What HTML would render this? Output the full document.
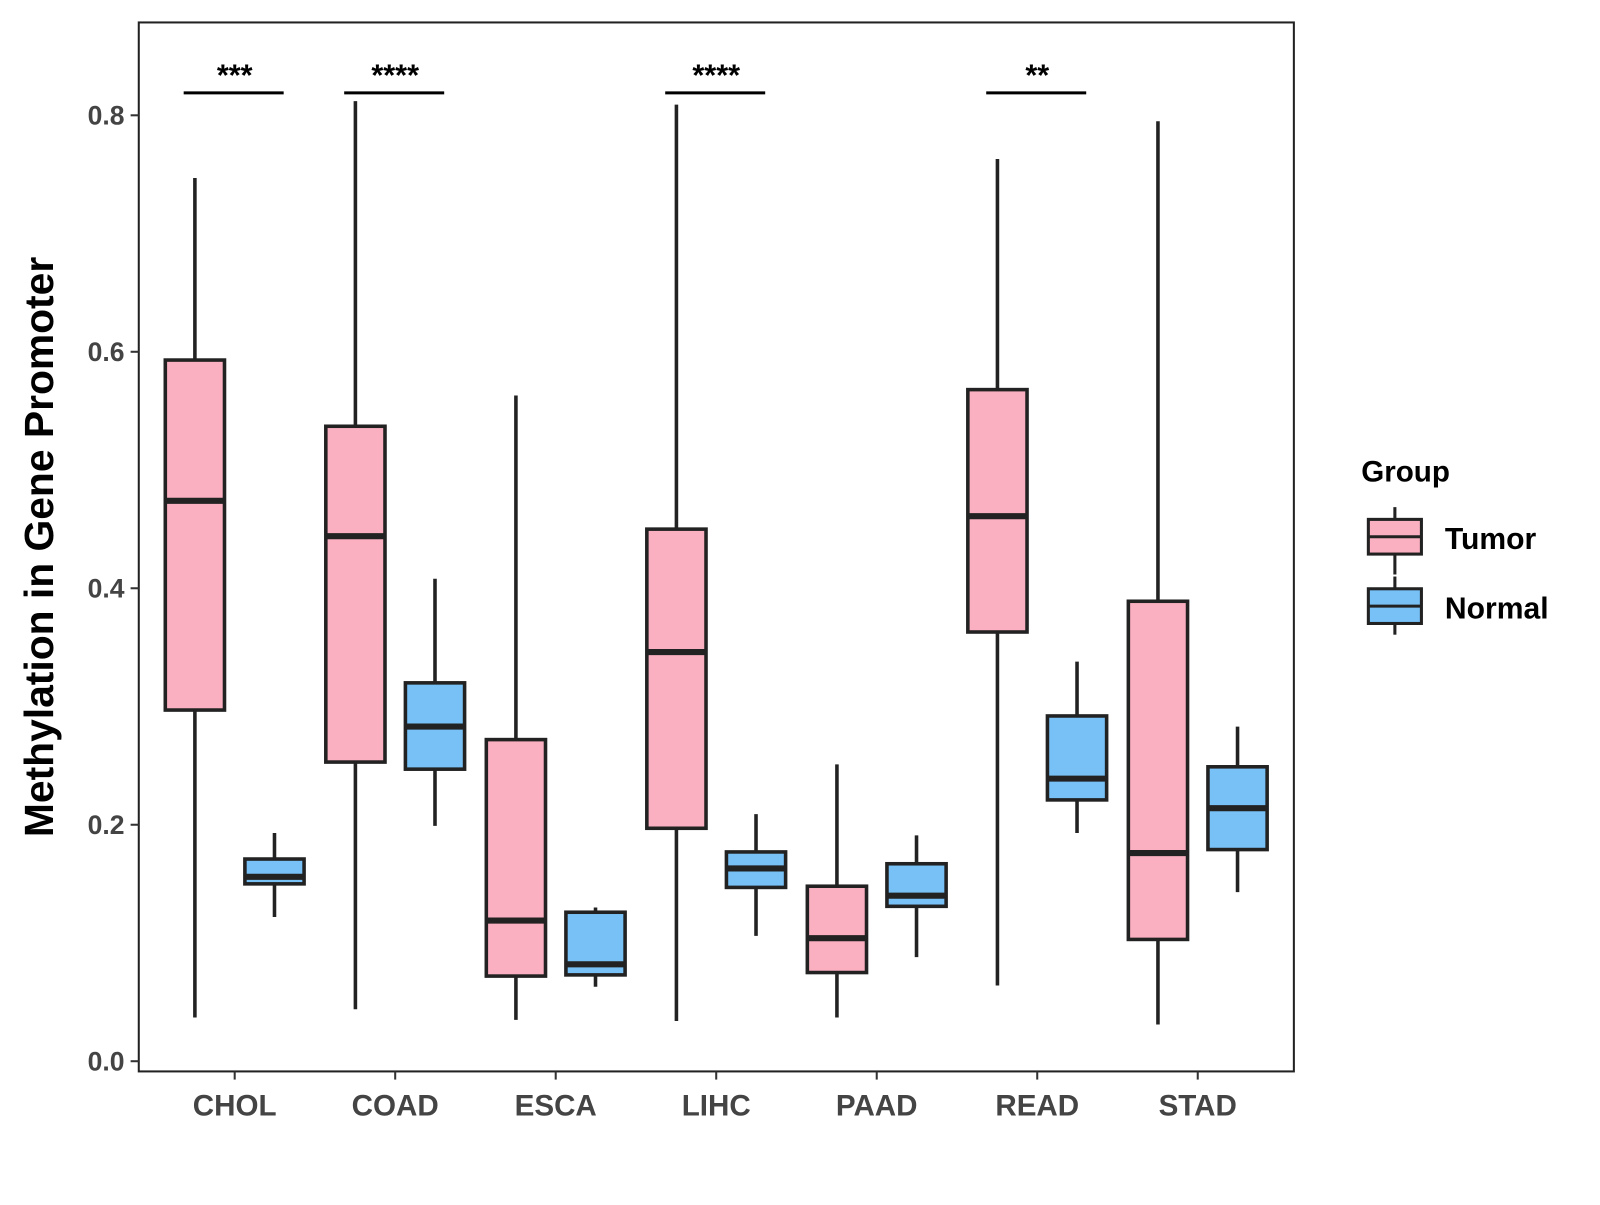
<!DOCTYPE html>
<html><head><meta charset="utf-8"><style>
body{margin:0;background:#fff;width:1600px;height:1200px;overflow:hidden}
svg text{font-family:"Liberation Sans",Arial,sans-serif;font-weight:bold}
</style></head><body>
<svg id="chart" width="1600" height="1200" xmlns="http://www.w3.org/2000/svg">
<g transform="scale(1.0204)">
<rect x="136" y="22" width="1132" height="1028" fill="#fff" stroke="#222" stroke-width="2"/>
<g id="axes"></g><g id="boxes"></g><g id="sig"></g>
<text x="52" y="536" font-size="40" fill="#000" text-anchor="middle" transform="rotate(-90 52 536)">Methylation in Gene Promoter</text>
<g>
<text x="1334" y="472" font-size="29" fill="#000">Group</text>
<g>
<line x1="1367" y1="497" x2="1367" y2="563" stroke="#222" stroke-width="3"/>
<rect x="1341" y="509" width="52" height="34" fill="#FBB0C1" stroke="#222" stroke-width="3"/>
<line x1="1341" y1="526" x2="1393" y2="526" stroke="#222" stroke-width="3"/>
<text x="1416" y="538" font-size="29.5" fill="#000">Tumor</text></g>
<g>
<line x1="1367" y1="565" x2="1367" y2="622" stroke="#222" stroke-width="3"/>
<rect x="1341" y="577" width="52" height="34" fill="#77C1F7" stroke="#222" stroke-width="3"/>
<line x1="1341" y1="594" x2="1393" y2="594" stroke="#222" stroke-width="3"/>
<text x="1416" y="606" font-size="29.5" fill="#000">Normal</text></g>
</g>
</g>
</svg>
<script>
const categories=["CHOL","COAD","ESCA","LIHC","PAAD","READ","STAD"];
// [low, q1, median, q3, high]
const tumorStats=[[0.037,0.297,0.474,0.593,0.747],[0.044,0.253,0.444,0.537,0.812],[0.035,0.072,0.119,0.272,0.563],[0.034,0.197,0.346,0.45,0.809],[0.037,0.075,0.104,0.148,0.251],[0.064,0.363,0.461,0.568,0.763],[0.031,0.103,0.176,0.389,0.795]];
const normalStats=[[0.122,0.15,0.156,0.171,0.193],[0.199,0.247,0.283,0.32,0.408],[0.063,0.073,0.082,0.126,0.13],[0.106,0.147,0.163,0.177,0.209],[0.088,0.131,0.14,0.167,0.191],[0.193,0.221,0.239,0.292,0.338],[0.143,0.179,0.214,0.249,0.283]];
const yTicks=[0,0.2,0.4,0.6,0.8];
const yTickLabels=["0.0","0.2","0.4","0.6","0.8"];
const sigLabels=["***","****","","****","","**",""];
const NS="http://www.w3.org/2000/svg";
const y=v=>1040-v*1158.75;
const x=i=>230+i*157.3;
function mk(tag,attrs,parent,text){const e=document.createElementNS(NS,tag);for(const k in attrs)e.setAttribute(k,attrs[k]);if(text!==undefined)e.textContent=text;parent.appendChild(e);return e;}
const axes=document.getElementById('axes'),boxes=document.getElementById('boxes'),sig=document.getElementById('sig');
yTicks.forEach((t,i)=>{
 const l=mk('line',{x1:128,x2:136,y1:y(t),y2:y(t),stroke:'#333','stroke-width':2},axes);
 
 
 const tx=mk('text',{x:122,y:y(t)+9,'font-size':26,fill:'#444','text-anchor':'end'},axes,yTickLabels[i]);
 
 
});
categories.forEach((c,i)=>{
 const l=mk('line',{x1:x(i),x2:x(i),y1:1050,y2:1058,stroke:'#333','stroke-width':2},axes);
 
 
 const tx=mk('text',{x:x(i),y:1093,'font-size':29,fill:'#444','text-anchor':'middle'},axes,c);
 
 
 [[tumorStats[i],'#FBB0C1',-39,'tumor'],[normalStats[i],'#77C1F7',39,'normal']].forEach(([s,fill,off,nm])=>{
  const cx=x(i)+off,w=58;
  const g=mk('g',{},boxes);
  
  
  mk('line',{x1:cx,x2:cx,y1:y(s[0]),y2:y(s[4]),stroke:'#222','stroke-width':3.5},g);
  mk('rect',{x:cx-w/2,y:y(s[3]),width:w,height:y(s[1])-y(s[3]),fill:fill,stroke:'#222','stroke-width':3.5},g);
  mk('line',{x1:cx-w/2,x2:cx+w/2,y1:y(s[2]),y2:y(s[2]),stroke:'#222','stroke-width':6},g);
 });
 if(sigLabels[i]){
  const g=mk('g',{},sig);
  
  
  mk('line',{x1:x(i)-50,x2:x(i)+48,y1:91,y2:91,stroke:'#000','stroke-width':3},g);
  mk('text',{x:x(i),y:84,'font-size':30,fill:'#000','text-anchor':'middle'},g,sigLabels[i]);
 }
});
</script>
</body></html>
